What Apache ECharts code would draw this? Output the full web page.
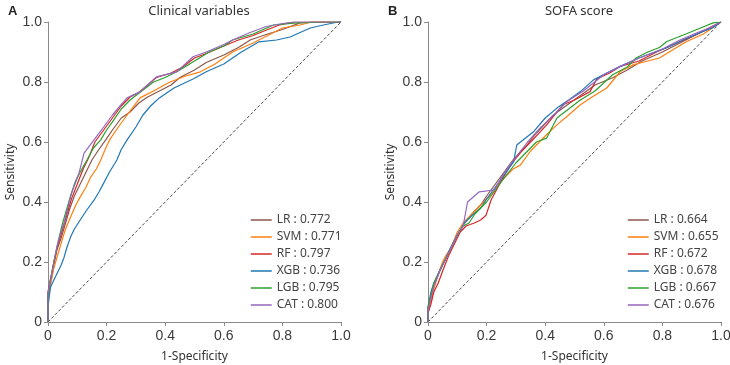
<!DOCTYPE html>
<html><head><meta charset="utf-8">
<script src="https://cdn.jsdelivr.net/npm/echarts@6/dist/echarts.min.js"></script>
<style>html,body{margin:0;padding:0;background:#fff}#c{width:730px;height:365px}</style>
</head><body><div id="c"></div>
<script>
const models = ['LR','SVM','RF','XGB','LGB','CAT'];
const colors = ['#8c564b','#ff7f0e','#d62728','#1f77b4','#2ca02c','#9467bd'];
const titles = ['Clinical variables','SOFA score'];
const panelLetters = ['A','B'];
const aucA = ['0.772','0.771','0.797','0.736','0.795','0.800'];
const aucB = ['0.664','0.655','0.672','0.678','0.667','0.676'];
const ticks = [0,0.2,0.4,0.6,0.8,1.0];

const rocA_LR = [[0,0],[0,0.09],[0.01,0.14],[0.02,0.19],[0.03,0.24],[0.045,0.28],[0.06,0.33],[0.075,0.38],[0.09,0.42],[0.11,0.46],[0.13,0.50],[0.15,0.54],[0.17,0.57],[0.197,0.607],[0.22,0.64],[0.25,0.68],[0.28,0.70],[0.31,0.73],[0.34,0.75],[0.38,0.77],[0.42,0.79],[0.45,0.815],[0.5,0.84],[0.54,0.865],[0.6,0.89],[0.65,0.915],[0.69,0.94],[0.75,0.96],[0.8,0.975],[0.86,0.997],[0.9,1],[1,1]];
const rocA_SVM = [[0,0],[0,0.08],[0.01,0.13],[0.02,0.18],[0.035,0.23],[0.048,0.273],[0.06,0.31],[0.077,0.35],[0.095,0.39],[0.11,0.417],[0.13,0.45],[0.146,0.484],[0.165,0.51],[0.18,0.54],[0.195,0.575],[0.21,0.607],[0.24,0.65],[0.27,0.69],[0.314,0.747],[0.36,0.77],[0.416,0.80],[0.47,0.82],[0.52,0.834],[0.57,0.86],[0.63,0.90],[0.7,0.93],[0.75,0.955],[0.8,0.98],[0.86,0.99],[0.9,1],[1,1]];
const rocA_RF = [[0,0],[0,0.1],[0.008,0.14],[0.02,0.2],[0.035,0.26],[0.05,0.31],[0.065,0.36],[0.08,0.41],[0.1,0.46],[0.12,0.51],[0.14,0.55],[0.16,0.6],[0.19,0.64],[0.22,0.68],[0.25,0.72],[0.28,0.75],[0.31,0.765],[0.34,0.79],[0.37,0.815],[0.42,0.83],[0.46,0.85],[0.5,0.88],[0.54,0.895],[0.6,0.92],[0.65,0.94],[0.7,0.955],[0.75,0.975],[0.79,0.99],[0.84,1],[1,1]];
const rocA_XGB = [[0,0],[0,0.05],[0.005,0.09],[0.009,0.117],[0.02,0.14],[0.03,0.16],[0.045,0.19],[0.055,0.216],[0.065,0.25],[0.077,0.283],[0.09,0.31],[0.11,0.34],[0.13,0.37],[0.157,0.406],[0.175,0.435],[0.19,0.463],[0.21,0.5],[0.235,0.54],[0.25,0.575],[0.27,0.607],[0.3,0.65],[0.324,0.69],[0.35,0.72],[0.38,0.747],[0.43,0.78],[0.495,0.81],[0.54,0.834],[0.6,0.86],[0.66,0.9],[0.72,0.934],[0.78,0.94],[0.826,0.95],[0.895,0.98],[0.94,0.99],[0.99,1],[1,1]];
const rocA_LGB = [[0,0],[0,0.09],[0.008,0.14],[0.02,0.2],[0.035,0.27],[0.05,0.33],[0.065,0.38],[0.08,0.43],[0.1,0.48],[0.11,0.5],[0.133,0.54],[0.155,0.58],[0.18,0.607],[0.2,0.64],[0.22,0.667],[0.25,0.71],[0.28,0.74],[0.32,0.77],[0.36,0.80],[0.4,0.815],[0.45,0.84],[0.5,0.87],[0.55,0.9],[0.6,0.92],[0.63,0.94],[0.7,0.96],[0.77,0.99],[0.85,0.997],[0.95,1],[1,1]];
const rocA_CAT = [[0,0],[0,0.1],[0.009,0.14],[0.02,0.2],[0.03,0.25],[0.045,0.3],[0.055,0.33],[0.065,0.37],[0.077,0.417],[0.09,0.46],[0.106,0.497],[0.123,0.563],[0.157,0.607],[0.19,0.65],[0.22,0.69],[0.25,0.725],[0.27,0.747],[0.314,0.767],[0.34,0.79],[0.37,0.817],[0.44,0.834],[0.495,0.884],[0.54,0.9],[0.6,0.925],[0.63,0.94],[0.69,0.965],[0.745,0.985],[0.8,0.995],[0.84,1],[1,1]];

const rocB_LR = [[0,0],[0,0.04],[0.01,0.09],[0.02,0.12],[0.04,0.17],[0.06,0.21],[0.08,0.25],[0.1,0.29],[0.125,0.33],[0.15,0.36],[0.18,0.39],[0.2,0.42],[0.23,0.46],[0.26,0.5],[0.29,0.54],[0.33,0.58],[0.37,0.63],[0.428,0.69],[0.47,0.72],[0.52,0.755],[0.57,0.79],[0.63,0.814],[0.68,0.84],[0.73,0.87],[0.8,0.9],[0.86,0.93],[0.92,0.96],[0.96,0.98],[1,1]];
const rocB_SVM = [[0,0],[0,0.03],[0.01,0.07],[0.02,0.11],[0.035,0.16],[0.05,0.2],[0.06,0.22],[0.08,0.25],[0.1,0.3],[0.12,0.33],[0.16,0.37],[0.2,0.41],[0.22,0.43],[0.25,0.47],[0.29,0.51],[0.315,0.523],[0.35,0.57],[0.4,0.62],[0.44,0.657],[0.48,0.69],[0.52,0.724],[0.56,0.75],[0.61,0.78],[0.656,0.835],[0.70,0.857],[0.75,0.87],[0.79,0.88],[0.84,0.91],[0.883,0.935],[0.94,0.96],[1,1]];
const rocB_RF = [[0,0],[0,0.03],[0.01,0.06],[0.02,0.1],[0.035,0.13],[0.05,0.17],[0.07,0.22],[0.09,0.26],[0.11,0.3],[0.13,0.32],[0.158,0.33],[0.18,0.34],[0.198,0.356],[0.215,0.406],[0.25,0.47],[0.28,0.52],[0.32,0.57],[0.36,0.61],[0.405,0.657],[0.46,0.724],[0.5,0.74],[0.553,0.768],[0.576,0.81],[0.62,0.83],[0.656,0.852],[0.72,0.87],[0.78,0.9],[0.85,0.93],[0.92,0.96],[0.97,0.985],[1,1]];
const rocB_XGB = [[0,0],[0,0.05],[0.01,0.1],[0.02,0.13],[0.044,0.18],[0.06,0.21],[0.078,0.25],[0.1,0.29],[0.124,0.33],[0.15,0.355],[0.18,0.38],[0.2,0.41],[0.23,0.45],[0.26,0.49],[0.292,0.534],[0.303,0.59],[0.36,0.634],[0.4,0.68],[0.44,0.713],[0.48,0.74],[0.52,0.768],[0.565,0.807],[0.61,0.83],[0.656,0.852],[0.72,0.88],[0.815,0.914],[0.87,0.94],[0.928,0.964],[0.97,0.98],[1,1]];
const rocB_LGB = [[0,0],[0,0.05],[0.01,0.09],[0.02,0.13],[0.04,0.17],[0.06,0.21],[0.08,0.25],[0.1,0.29],[0.12,0.32],[0.14,0.33],[0.16,0.36],[0.18,0.38],[0.2,0.4],[0.23,0.44],[0.26,0.48],[0.3,0.53],[0.34,0.57],[0.37,0.6],[0.405,0.613],[0.44,0.68],[0.52,0.74],[0.57,0.77],[0.63,0.824],[0.68,0.85],[0.71,0.88],[0.75,0.9],[0.79,0.915],[0.815,0.935],[0.88,0.96],[0.93,0.98],[0.973,0.997],[1,1]];
const rocB_CAT = [[0,0],[0,0.04],[0.01,0.08],[0.02,0.12],[0.04,0.17],[0.06,0.21],[0.08,0.25],[0.1,0.29],[0.12,0.32],[0.135,0.4],[0.175,0.434],[0.226,0.44],[0.26,0.497],[0.3,0.55],[0.34,0.6],[0.383,0.647],[0.43,0.69],[0.474,0.735],[0.53,0.77],[0.6,0.824],[0.656,0.852],[0.72,0.88],[0.8,0.91],[0.86,0.94],[0.92,0.965],[0.96,0.98],[1,1]];

const diagonal = [[0,0],[1,1]];

const panelData = [
  [rocA_LR, rocA_SVM, rocA_RF, rocA_XGB, rocA_LGB, rocA_CAT],
  [rocB_LR, rocB_SVM, rocB_RF, rocB_XGB, rocB_LGB, rocB_CAT]
];
const panelAuc = [aucA, aucB];

const grids = [
  {left: 48, top: 22, width: 293, height: 300, outerBoundsMode: 'none', containLabel: false},
  {left: 428, top: 22, width: 293, height: 300, outerBoundsMode: 'none', containLabel: false}
];
const legendPos = [{left: 250, top: 214}, {left: 627, top: 214}];
const titlePos = [194, 574];
const letterPos = [3, 383];

const fmt = v => v === 0 ? '0' : v.toFixed(1);
const axisCommon = {
  type: 'value', min: 0, max: 1, interval: 0.2,
  axisLine: {show: true, lineStyle: {color: '#8a8a8a', width: 1}},
  axisTick: {show: true, length: 4, lineStyle: {color: '#8a8a8a'}},
  splitLine: {show: false},
  axisLabel: {color: '#3a3a3a', fontSize: 14, fontFamily: 'Liberation Sans', formatter: fmt},
  nameLocation: 'middle',
  nameTextStyle: {color: '#333', fontSize: 12, fontFamily: 'Noto Sans'}
};

const xAxis = [], yAxis = [], series = [], legend = [], title = [];
for (let p = 0; p < 2; p++) {
  xAxis.push(Object.assign({}, axisCommon, {gridIndex: p, name: '1-Specificity', nameGap: 29,
    axisLabel: Object.assign({}, axisCommon.axisLabel, {margin: 7})}));
  yAxis.push(Object.assign({}, axisCommon, {gridIndex: p, name: 'Sensitivity', nameGap: 31,
    axisLabel: Object.assign({}, axisCommon.axisLabel, {margin: 6})}));
  const names = [];
  for (let i = 0; i < models.length; i++) {
    const nm = models[i] + ' : ' + panelAuc[p][i];
    names.push(nm);
    series.push({
      name: nm, type: 'line', xAxisIndex: p, yAxisIndex: p,
      data: panelData[p][i], symbol: 'none', smooth: false,
      lineStyle: {color: colors[i], width: 1.2}, itemStyle: {color: colors[i]},
      animation: false
    });
  }
  series.push({
    type: 'line', xAxisIndex: p, yAxisIndex: p, data: diagonal, symbol: 'none',
    lineStyle: {color: '#333', width: 0.9, type: [3, 2]}, silent: true, animation: false, z: 1
  });
  legend.push({
    data: names, orient: 'vertical', left: legendPos[p].left, top: legendPos[p].top,
    padding: 0, itemWidth: 21, itemHeight: 12, itemGap: 5,
    itemStyle: {opacity: 0},
    lineStyle: {width: 1.5},
    textStyle: {color: '#444', fontSize: 12, lineHeight: 12, fontFamily: 'Noto Sans'}
  });
  title.push({text: titles[p], left: titlePos[p], top: 0, textAlign: 'center',
    textStyle: {color: '#333', fontSize: 13, fontWeight: 'normal', fontFamily: 'Noto Sans'}});
  title.push({text: panelLetters[p], left: letterPos[p], top: 0,
    textStyle: {color: '#222', fontSize: 13, fontWeight: 'bold', fontFamily: 'Liberation Sans'}});
}

const chart = echarts.init(document.getElementById('c'), null, {renderer: 'canvas'});
chart.setOption({
  animation: false, backgroundColor: '#fff',
  grid: grids, xAxis, yAxis, series, legend, title
});
</script></body></html>
